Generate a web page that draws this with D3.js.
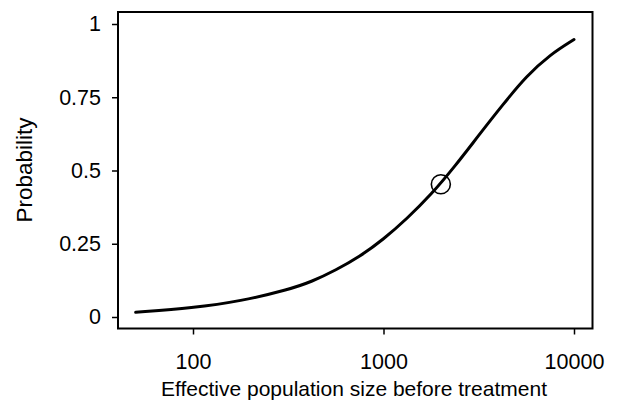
<!DOCTYPE html>
<html>
<head>
<meta charset="utf-8">
<script src="https://cdn.jsdelivr.net/npm/d3@7"></script>
<style>
  html, body { margin: 0; padding: 0; background: #fff; }
  svg { display: block; }
  text { font-family: "Liberation Sans", Arial, Helvetica, sans-serif; fill: #000; }
</style>
</head>
<body>
<svg id="chart" width="617" height="402"></svg>
<script>
// Data
const popSize = [50, 100, 178, 316, 422, 562, 750, 1000, 1330, 1780, 2370, 3160, 4220, 5620, 7500, 10000];
const probability = [0.016, 0.031, 0.054, 0.093, 0.121, 0.160, 0.206, 0.265, 0.336, 0.418, 0.514, 0.620, 0.724, 0.822, 0.896, 0.947];
const markerX = [2000];
const markerY = [0.453];
const xTicks = [100, 1000, 10000];
const yTicks = [0, 0.25, 0.5, 0.75, 1];
const yTickLabels = ["0", "0.25", "0.5", "0.75", "1"];
const xTitle = "Effective population size before treatment";
const yTitle = "Probability";

const svg = d3.select("#chart");
const box = { left: 118, top: 12, right: 592.5, bottom: 328.5 };

const x = d3.scaleLog().domain([100, 10000]).range([193, 574]);
const y = d3.scaleLinear().domain([0, 1]).range([317, 24]);

// frame
svg.append("rect")
  .attr("x", box.left).attr("y", box.top)
  .attr("width", box.right - box.left).attr("height", box.bottom - box.top)
  .attr("fill", "none").attr("stroke", "#000").attr("stroke-width", 2);

// x axis
const xAxis = d3.axisBottom(x).tickValues(xTicks).tickFormat(d3.format("d")).tickSize(6).tickPadding(19);
const gx = svg.append("g").attr("transform", `translate(0,${box.bottom})`).call(xAxis);
gx.select(".domain").remove();
gx.selectAll(".tick line").attr("stroke", "#000").attr("stroke-width", 1.5);
gx.selectAll(".tick text").attr("font-size", 21.5).attr("font-family", "Liberation Sans, Arial, sans-serif");

// y axis
const yAxis = d3.axisLeft(y).tickValues(yTicks).tickFormat((d, i) => yTickLabels[i]).tickSize(6).tickPadding(11);
const gy = svg.append("g").attr("transform", `translate(${box.left},0)`).call(yAxis);
gy.select(".domain").remove();
gy.selectAll(".tick line").attr("stroke", "#000").attr("stroke-width", 1.5);
gy.selectAll(".tick text").attr("font-size", 21.5).attr("font-family", "Liberation Sans, Arial, sans-serif");

// curve
const data = popSize.map((n, i) => ({ n, p: probability[i] }));
const line = d3.line().x(d => x(d.n)).y(d => y(d.p)).curve(d3.curveBasis);
svg.append("path").datum(data)
  .attr("d", line)
  .attr("fill", "none").attr("stroke", "#000").attr("stroke-width", 3)
  .attr("stroke-linecap", "round");

// marker
svg.selectAll("circle.m").data(markerX).enter().append("circle")
  .attr("class", "m")
  .attr("cx", d => x(d)).attr("cy", (d, i) => y(markerY[i]))
  .attr("r", 9.5)
  .attr("fill", "none").attr("stroke", "#000").attr("stroke-width", 1.6);

// titles
svg.append("text")
  .attr("x", 354).attr("y", 396)
  .attr("text-anchor", "middle").attr("font-size", 21)
  .text(xTitle);

svg.append("text")
  .attr("transform", `translate(32,170) rotate(-90)`)
  .attr("text-anchor", "middle").attr("font-size", 22.5)
  .text(yTitle);
</script>
</body>
</html>
